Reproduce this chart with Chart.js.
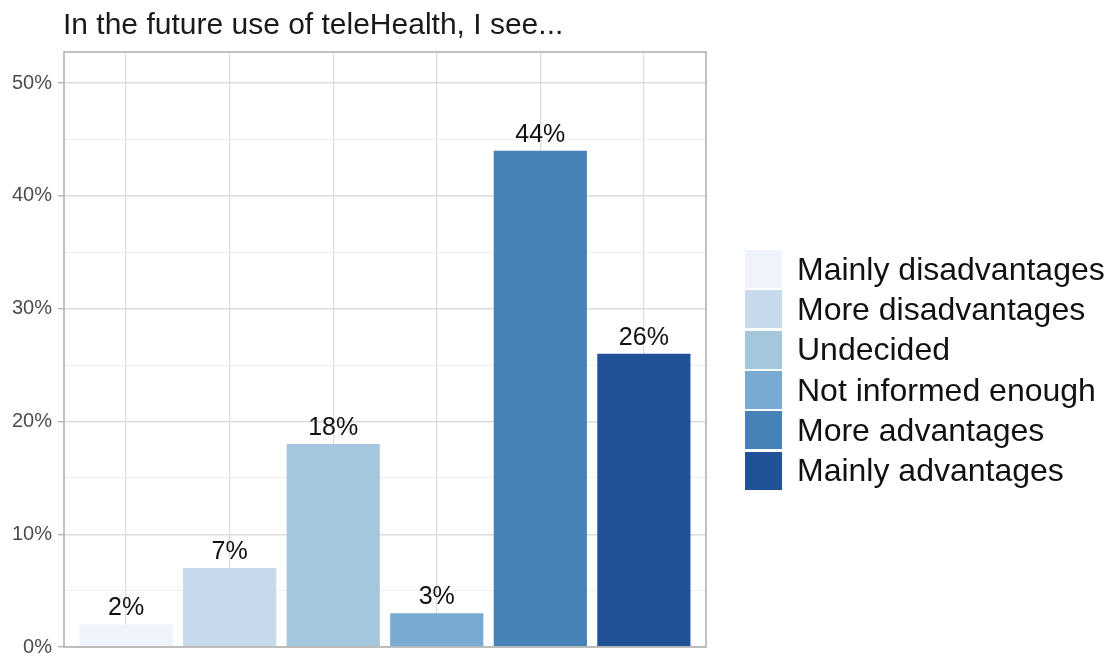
<!DOCTYPE html>
<html>
<head>
<meta charset="utf-8">
<script src="https://cdn.jsdelivr.net/npm/chart.js"></script>
<style>
  body { margin: 0; background: #fff; font-family: "Liberation Sans", Arial, sans-serif; }
  #wrap { position: relative; width: 1114px; height: 660px; }
  #title { position: absolute; left: 63px; top: 7px; font-size: 30px; color: #1a1a1a; white-space: nowrap; }
  #legend { position: absolute; left: 745px; top: 249px; }
  .item { display: flex; align-items: center; height: 40.3px; }
  .swatch { width: 37px; height: 38px; margin-right: 15px; }
  .label { font-size: 32px; color: #111; white-space: nowrap; }
</style>
</head>
<body>
<div id="wrap">
  <div id="title">In the future use of teleHealth, I see...</div>
  <canvas id="chart" width="1114" height="660"></canvas>
  <div id="legend"></div>
</div>
<script>
// answers, in the order shown
const categories = ['Mainly disadvantages', 'More disadvantages', 'Undecided',
                    'Not informed enough', 'More advantages', 'Mainly advantages'];
const percentages = [2, 7, 18, 3, 44, 26];
const barColors = ['#eef3fc', '#c7daec', '#a5c7de', '#78aad2', '#4682b8', '#215298'];
const yTicks = [0, 10, 20, 30, 40, 50];

// legend
const legend = document.getElementById('legend');
categories.forEach((name, i) => {
    const row = document.createElement('div');
    row.className = 'item';
    row.innerHTML = `<div class="swatch" style="background:${barColors[i]}"></div><div class="label">${name}</div>`;
    legend.appendChild(row);
});

// panel border like the ggplot theme
const panelBorder = {
    id: 'panelBorder',
    afterDraw(chart) {
        const { ctx, chartArea: a } = chart;
        ctx.save();
        ctx.strokeStyle = '#b3b3b3';
        ctx.lineWidth = 1.6;
        ctx.strokeRect(a.left, a.top, a.right - a.left, a.bottom - a.top);
        ctx.restore();
    }
};

// value labels above bars
const barLabels = {
    id: 'barLabels',
    afterDatasetsDraw(chart) {
        const { ctx } = chart;
        const meta = chart.getDatasetMeta(0);
        ctx.save();
        ctx.font = '25px "Liberation Sans", Arial, sans-serif';
        ctx.fillStyle = '#111';
        ctx.textAlign = 'center';
        ctx.textBaseline = 'alphabetic';
        meta.data.forEach((bar, i) => {
            ctx.fillText(percentages[i] + '%', bar.x, bar.y - 9);
        });
        ctx.restore();
    }
};

new Chart(document.getElementById('chart'), {
    type: 'bar',
    data: {
        datasets: [{
            data: percentages.map((v, i) => ({ x: i + 1, y: v })),
            backgroundColor: barColors,
            borderWidth: 0,
            categoryPercentage: 1,
            barPercentage: 0.9
        }]
    },
    options: {
        responsive: false,
        animation: false,
        layout: { padding: { top: 52, right: 408, bottom: 13, left: 0 } },
        plugins: { legend: { display: false }, tooltip: { enabled: false } },
        scales: {
            x: {
                type: 'linear',
                min: 0.4,
                max: 6.6,
                offset: false,
                afterBuildTicks: (s) => { s.ticks = categories.map((c, i) => ({ value: i + 1 })); },
                afterFit: (s) => { s.height = 0; s.paddingLeft = 0; s.paddingRight = 0; },
                ticks: { display: false, padding: 0 },
                border: { display: false },
                grid: { color: '#dedede', lineWidth: 1.3, drawTicks: false, offset: false }
            },
            y: {
                min: 0,
                max: 52.75,
                afterBuildTicks: (s) => {
                    s.ticks = [];
                    for (let v = 0; v <= 50; v += 5) s.ticks.push({ value: v });
                },
                afterFit: (s) => { s.width = 64; s.paddingTop = 0; s.paddingBottom = 0; },
                border: { display: false },
                grid: {
                    color: (c) => (c.tick.value % 10 === 0 ? '#dcdcdc' : '#eeeeee'),
                    lineWidth: (c) => (c.tick.value % 10 === 0 ? 1.4 : 1),
                    tickColor: (c) => (c.tick.value % 10 === 0 ? '#b3b3b3' : 'rgba(0,0,0,0)'),
                    tickLength: 6
                },
                ticks: {
                    padding: 6,
                    color: '#4d4d4d',
                    font: { family: '"Liberation Sans", Arial, sans-serif', size: 20 },
                    callback: (v) => (yTicks.includes(v) ? v + '%' : '')
                }
            }
        }
    },
    plugins: [panelBorder, barLabels]
});
</script>
</body>
</html>
